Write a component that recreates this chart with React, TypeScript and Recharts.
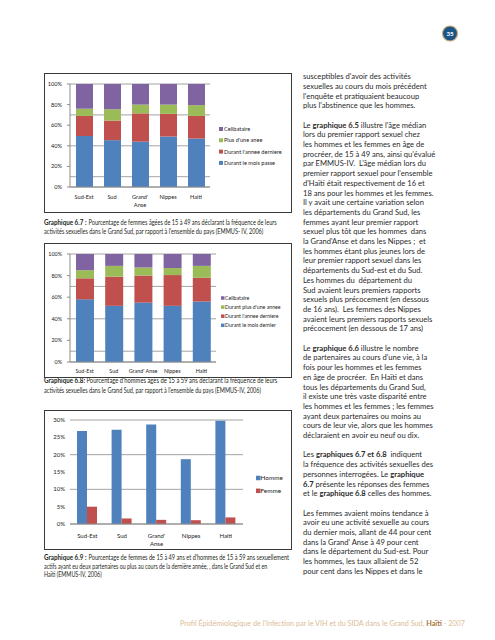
import React from 'react';
import { BarChart, Bar, XAxis, YAxis, CartesianGrid, Legend } from 'recharts';

// ---------- data ----------
const regions = ['Sud-Est', 'Sud', "Grand' Anse", 'Nippes', 'Haiti'];

// Graphique 6.7 (femmes)
const fMoisPasse = [49.5, 45.5, 44, 49, 47];
const fAnneeDerniere = [19.5, 19, 27.5, 22, 22];
const fPlusUneAnnee = [7, 11, 8.5, 9, 10.5];
const fCelibataire = [24, 24.5, 20, 20, 20.5];

// Graphique 6.8 (hommes)
const hMoisDernier = [58, 52, 55, 52, 56];
const hAnneeDerniere = [19.5, 27, 25, 28.5, 22];
const hPlusUneAnnee = [7.5, 10, 7.5, 6.5, 11];
const hCelibataire = [15, 11, 12.5, 13, 11];

// Graphique 6.9
const homme = [26.8, 27.2, 28.7, 18.7, 29.8];
const femme = [5.0, 1.6, 1.2, 1.1, 1.9];

const ticks100 = [0, 10, 20, 30, 40, 50, 60, 70, 80, 90, 100];
const ticks30 = [0, 5, 10, 15, 20, 25, 30];

const legend67 = ['Celibataire', "Plus d'une anee", "Durant l'annee derniere", 'Durant le mois passe'];
const legend68 = ['Celibataire', "Durant plus d'une annee", "Durant l'annee derniere", 'Durant le mois dernier'];
const legend69 = ['Homme', 'Femme'];

const BLUE = '#4F81BD';
const RED = '#C0504D';
const GREEN = '#9BBB59';
const PURPLE = '#8064A2';
const GRID = '#8c8c8c';
const chartFont = 'Lato, sans-serif';
const textFont = 'Lato, sans-serif';

const data67 = regions.map((r, i) => ({ region: r, a: fMoisPasse[i], b: fAnneeDerniere[i], c: fPlusUneAnnee[i], d: fCelibataire[i] }));
const data68 = regions.map((r, i) => ({ region: r, a: hMoisDernier[i], b: hAnneeDerniere[i], c: hPlusUneAnnee[i], d: hCelibataire[i] }));
const data69 = regions.map((r, i) => ({ region: r, h: homme[i], f: femme[i] }));

// ---------- helpers ----------
const makeLegend = (order: string[], colors: Record<string, string>, cfg: { gap: number; fs: number; sq: number; tx: number }) =>
  (props: any) => {
    const payload: any[] = props.payload || [];
    const h = cfg.gap * (order.length - 1) + 10;
    return (
      <svg width={100} height={h} style={{ display: 'block', overflow: 'visible' }}>
        {order.map((name, i) => {
          const item = payload.find((p: any) => p.value === name);
          const color = (item && item.color) || colors[name];
          const cy = 5 + i * cfg.gap;
          return (
            <g key={name}>
              <rect x={0} y={cy - cfg.sq / 2} width={cfg.sq} height={cfg.sq} fill={color} />
              <text x={cfg.tx} y={cy} dy="0.35em" fontSize={cfg.fs} fill="#222" fontFamily={chartFont}>{name}</text>
            </g>
          );
        })}
      </svg>
    );
  };

const makeXTick = (fs: number, lh: number, wrap: boolean) => (props: any) => {
  const { x, y, payload } = props;
  const v = String(payload.value);
  const lines = wrap && v.includes(' ') ? v.split(' ') : [v];
  return (
    <text x={x} y={y} textAnchor="middle" fontSize={fs} fill="#222" fontFamily={chartFont}>
      {lines.map((l, i) => (
        <tspan key={i} x={x} dy={i === 0 ? '0.71em' : lh}>{l}</tspan>
      ))}
    </text>
  );
};

const pct = (v: number) => `${v}%`;

const Frame = ({ left, top, width, height, children }: any) => (
  <div style={{ position: 'absolute', left, top, width, height }}>
    {children}
    <div style={{ position: 'absolute', left: 0, top: 0, width, height, border: '1px solid #3a3a3a', boxSizing: 'border-box', pointerEvents: 'none' }} />
  </div>
);

// ---------- text ----------
const bodyLines: string[] = [
  "susceptibles d'avoir des activités",
  'sexuelles au cours du mois précédent',
  "l'enquête et pratiquaient beaucoup",
  "plus l'abstinence que les hommes.",
  '',
  "Le **graphique 6.5** illustre l'âge médian",
  'lors du premier rapport sexuel chez',
  'les hommes et les femmes en âge de',
  "procréer, de 15 à 49 ans, ainsi qu'évalué",
  "par EMMUS-IV.  L'âge médian lors du",
  "premier rapport sexuel pour l'ensemble",
  "d'Haïti était respectivement de 16 et",
  '18 ans pour les hommes et les femmes.',
  'Il y avait une certaine variation selon',
  'les départements du Grand Sud, les',
  'femmes ayant leur premier rapport',
  'sexuel plus tôt que les hommes  dans',
  "la Grand'Anse et dans les Nippes ;  et",
  'les hommes étant plus jeunes lors de',
  'leur premier rapport sexuel dans les',
  'départements du Sud-est et du Sud.',
  'Les hommes du  département du',
  'Sud avaient leurs premiers rapports',
  'sexuels plus précocement (en dessous',
  'de 16 ans).  Les femmes des Nippes',
  'avaient leurs premiers rapports sexuels',
  'précocement (en dessous de 17 ans)',
  '',
  'Le **graphique 6.6** illustre le nombre',
  "de partenaires au cours d'une vie, à la",
  'fois pour les hommes et les femmes',
  'en âge de procréer.  En Haïti et dans',
  'tous les départements du Grand Sud,',
  'il existe une très vaste disparité entre',
  'les hommes et les femmes ; les femmes',
  'ayant deux partenaires ou moins au',
  'cours de leur vie, alors que les hommes',
  'déclaraient en avoir eu neuf ou dix.',
  '',
  'Les **graphiques 6.7 et 6.8**  indiquent',
  'la fréquence des activités sexuelles des',
  'personnes interrogées. Le **graphique**',
  '**6.7** présente les réponses des femmes',
  'et le **graphique 6.8** celles des hommes.',
  '',
  'Les femmes avaient moins tendance à',
  'avoir eu une activité sexuelle au cours',
  'du dernier mois, allant de 44 pour cent',
  "dans la Grand' Anse à 49 pour cent",
  'dans le département du Sud-est. Pour',
  'les hommes, les taux allaient de 52',
  'pour cent dans les Nippes et dans le',
];

const renderRich = (s: string) =>
  s.split('**').map((seg, i) => (
    <tspan key={i} fontWeight={i % 2 === 1 ? 'bold' : 'normal'} style={{ whiteSpace: 'pre' }}>{seg}</tspan>
  ));

type Cap = { y: number; x: number; w: number; bold?: string; bw?: number; text: string };
const captions: Cap[] = [
  { y: 222.7, x: 88.5, w: 188.2, bold: 'Graphique 6.7 :', bw: 42.5, text: 'Pourcentage de femmes âgées de 15 à 49 ans déclarant la fréquence de leurs' },
  { y: 231.7, x: 44, w: 219.3, text: "activités sexuelles dans le Grand Sud, par rapport à l'ensemble du pays (EMMUS- IV, 2006)" },
  { y: 381, x: 86.5, w: 190.8, bold: 'Graphique 6.8:', bw: 41, text: "Pourcentage d'hommes âgés de 15 à 59 ans déclarant la fréquence de leurs" },
  { y: 390.7, x: 44, w: 217, text: "activités sexuelles dans le Grand Sud, par rapport à l'ensemble du pays (EMMUS-IV, 2006)" },
  { y: 557.7, x: 88.5, w: 200.5, bold: 'Graphique 6.9 :', bw: 42.5, text: "Pourcentage de femmes de 15 à 49 ans et d'hommes de 15 à 59 ans sexuellement" },
  { y: 566.2, x: 44, w: 223.3, text: 'actifs ayant eu deux partenaires ou plus au cours de la dernière année, , dans le Grand Sud et en' },
  { y: 574.7, x: 44, w: 57.7, text: 'Haïti (EMMUS-IV, 2006)' },
];

export default function App() {
  return (
    <div style={{ position: 'absolute', left: 0, top: 0, width: 495, height: 640, background: '#fff', overflow: 'hidden' }}>
      <svg width={495} height={640} style={{ position: 'absolute', left: 0, top: 0 }}>
        {/* page number */}
        <circle cx={450} cy={33.5} r={7.5} fill="#1b5588" stroke="#c9a873" strokeWidth={1.2} />
        <text x={450} y={33.5} dy="0.35em" textAnchor="middle" fontSize={6.2} fontWeight="bold" fill="#fff" fontFamily={textFont}>35</text>

        {/* body text */}
        {bodyLines.map((l, i) =>
          l ? (
            <text key={i} x={303} y={76.5 + i * 9.7} dy="0.35em" fontSize={7.6} fill="#2a2a2a" fontFamily={textFont}>
              {renderRich(l)}
            </text>
          ) : null
        )}

        {/* captions */}
        {captions.map((c, i) => (
          <g key={i}>
            {c.bold ? (
              <text x={44} y={c.y} dy="0.35em" fontSize={6.6} fontWeight="bold" fill="#231f20" fontFamily={textFont} textLength={c.bw} lengthAdjust="spacingAndGlyphs">
                {c.bold}
              </text>
            ) : null}
            <text x={c.x} y={c.y} dy="0.35em" fontSize={6.6} fill="#231f20" fontFamily={textFont} textLength={c.w} lengthAdjust="spacingAndGlyphs">
              {c.text}
            </text>
          </g>
        ))}

        {/* footer */}
        <text x={180} y={624} dy="0.35em" fontSize={7} fontFamily={textFont} textLength={285} lengthAdjust="spacingAndGlyphs" style={{ whiteSpace: 'pre' }}>
          <tspan fill="#dcbb96">Profil Épidémiologique de l'Infection par le VIH et du SIDA dans le Grand Sud, </tspan>
          <tspan fill="#a8733a" fontWeight="bold">Haïti</tspan>
          <tspan fill="#dcbb96"> - 2007</tspan>
        </text>
      </svg>

      {/* Graphique 6.7 */}
      <Frame left={44} top={73} width={248} height={140}>
        <BarChart width={248} height={140} data={data67} margin={{ top: 11, right: 82, bottom: 0, left: 0 }}>
          <CartesianGrid vertical={false} stroke={GRID} strokeWidth={0.8} />
          <XAxis dataKey="region" interval={0} height={26} tickSize={0} tickMargin={8} tickLine={false} axisLine={{ stroke: GRID }} tick={makeXTick(5.6, 8.3, true)} />
          <YAxis type="number" domain={[0, 100]} ticks={ticks100} width={26} tickSize={3} tickMargin={5} tickFormatter={pct} axisLine={{ stroke: GRID }} tickLine={{ stroke: GRID }} tick={{ fontSize: 5.6, fill: '#222', fontFamily: chartFont }} />
          <Bar dataKey="a" name="Durant le mois passe" stackId="s" fill={BLUE} barSize={17} isAnimationActive={false} />
          <Bar dataKey="b" name="Durant l'annee derniere" stackId="s" fill={RED} barSize={17} isAnimationActive={false} />
          <Bar dataKey="c" name="Plus d'une anee" stackId="s" fill={GREEN} barSize={17} isAnimationActive={false} />
          <Bar dataKey="d" name="Celibataire" stackId="s" fill={PURPLE} barSize={17} isAnimationActive={false} />
          <Legend layout="vertical" align="center" verticalAlign="middle" wrapperStyle={{ left: 175, top: 51.3, width: 100 }}
            content={makeLegend(legend67, { Celibataire: PURPLE, "Plus d'une anee": GREEN, "Durant l'annee derniere": RED, 'Durant le mois passe': BLUE }, { gap: 11.3, fs: 5.6, sq: 4, tx: 5 })} />
        </BarChart>
      </Frame>

      {/* Graphique 6.8 */}
      <Frame left={44} top={243} width={248} height={135}>
        <BarChart width={248} height={135} data={data68} margin={{ top: 11, right: 76, bottom: 0, left: 0 }}>
          <CartesianGrid vertical={false} stroke={GRID} strokeWidth={0.8} />
          <XAxis dataKey="region" interval={0} height={16} tickSize={0} tickMargin={7} tickLine={false} axisLine={{ stroke: GRID }} tick={makeXTick(5.4, 8, false)} />
          <YAxis type="number" domain={[0, 100]} ticks={ticks100} width={26} tickSize={3} tickMargin={5} tickFormatter={pct} axisLine={{ stroke: GRID }} tickLine={{ stroke: GRID }} tick={{ fontSize: 5.4, fill: '#222', fontFamily: chartFont }} />
          <Bar dataKey="a" name="Durant le mois dernier" stackId="s" fill={BLUE} barSize={18} isAnimationActive={false} />
          <Bar dataKey="b" name="Durant l'annee derniere" stackId="s" fill={RED} barSize={18} isAnimationActive={false} />
          <Bar dataKey="c" name="Durant plus d'une annee" stackId="s" fill={GREEN} barSize={18} isAnimationActive={false} />
          <Bar dataKey="d" name="Celibataire" stackId="s" fill={PURPLE} barSize={18} isAnimationActive={false} />
          <Legend layout="vertical" align="center" verticalAlign="middle" wrapperStyle={{ left: 176.5, top: 49.7, width: 100 }}
            content={makeLegend(legend68, { Celibataire: PURPLE, "Durant plus d'une annee": GREEN, "Durant l'annee derniere": RED, 'Durant le mois dernier': BLUE }, { gap: 9.1, fs: 5.2, sq: 3.5, tx: 4 })} />
        </BarChart>
      </Frame>

      {/* Graphique 6.9 */}
      <Frame left={44} top={410} width={248} height={140}>
        <BarChart width={248} height={140} data={data69} margin={{ top: 10, right: 49, bottom: 0, left: 0 }} barGap={0}>
          <CartesianGrid vertical={false} stroke={GRID} strokeWidth={0.8} />
          <XAxis dataKey="region" interval={0} height={26} tickSize={0} tickMargin={10} tickLine={false} axisLine={{ stroke: GRID }} tick={makeXTick(6, 8, true)} />
          <YAxis type="number" domain={[0, 30]} ticks={ticks30} width={26} tickSize={0} tickMargin={5} tickFormatter={pct} axisLine={false} tickLine={false} tick={{ fontSize: 6, fill: '#222', fontFamily: chartFont }} />
          <Bar dataKey="h" name="Homme" fill={BLUE} barSize={10} isAnimationActive={false} />
          <Bar dataKey="f" name="Femme" fill={RED} barSize={10} isAnimationActive={false} />
          <Legend layout="vertical" align="center" verticalAlign="middle" wrapperStyle={{ left: 212, top: 62.5, width: 60 }}
            content={makeLegend(legend69, { Homme: BLUE, Femme: RED }, { gap: 12.8, fs: 6.4, sq: 4.5, tx: 4.5 })} />
        </BarChart>
      </Frame>
    </div>
  );
}
